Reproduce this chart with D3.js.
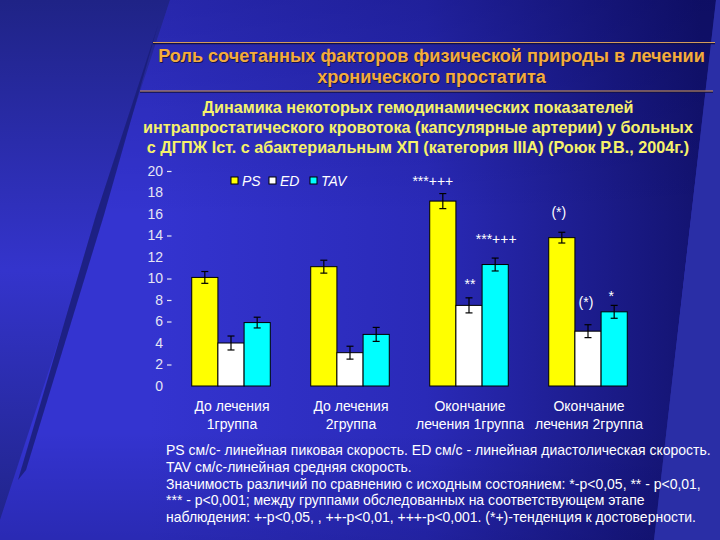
<!DOCTYPE html>
<html><head><meta charset="utf-8">
<script src="https://cdn.jsdelivr.net/npm/d3@7/dist/d3.min.js"></script>
<style>
html,body{margin:0;padding:0;background:#2a2ab8;overflow:hidden}
svg{display:block;font-family:"Liberation Sans",Arial,sans-serif}
</style></head>
<body>
<svg id="chart" width="720" height="540"></svg>
<script>
// ---- data ----
const titleLines = ["Роль сочетанных факторов физической природы в лечении", "хронического простатита"];
const subtitleLines = ["Динамика некоторых  гемодинамических показателей",
  "интрапростатического кровотока (капсулярные артерии)  у больных",
  "с ДГПЖ Iст. с абактериальным ХП (категория IIIA) (Роюк Р.В., 2004г.)"];
const categoryLine1 = ["До лечения", "До лечения", "Окончание", "Окончание"];
const categoryLine2 = ["1группа", "2группа", "лечения 1группа", "лечения 2группа"];
const seriesNames = ["PS", "ED", "TAV"];
const psValues  = [10.1, 11.1, 17.2, 13.8];
const edValues  = [4.0, 3.1, 7.5, 5.1];
const tavValues = [5.9, 4.8, 11.3, 6.9];
const psErrors  = [0.55, 0.6, 0.7, 0.5];
const edErrors  = [0.65, 0.6, 0.7, 0.6];
const tavErrors = [0.5, 0.65, 0.6, 0.6];
const psMarks  = ["", "", "***+++", "(*)"];
const edMarks  = ["", "", "**", "(*)"];
const tavMarks = ["", "", "***+++", "*"];
const yTicks = [0, 2, 4, 6, 8, 10, 12, 14, 16, 18, 20];
const yTicksWithMark = [2, 6, 8, 10, 14, 20];
const noteLines = [
  "PS см/с- линейная пиковая скорость. ED см/с - линейная диастолическая скорость.",
  "TAV см/с-линейная средняя скорость.",
  "Значимость различий по сравнению с исходным состоянием: *-p<0,05, ** - p<0,01,",
  "*** - p<0,001; между группами обследованных на соответствующем этапе",
  "наблюдения: +-p<0,05, , ++-p<0,01, +++-p<0,001. (*+)-тенденция к достоверности."
];

// ---- build ----
const seriesValues = [psValues, edValues, tavValues];
const seriesErrors = [psErrors, edErrors, tavErrors];
const seriesMarks = [psMarks, edMarks, tavMarks];
const colors = {PS: "#ffff00", ED: "#ffffff", TAV: "#00ffff"};
const groups = categoryLine1.map((c, i) => i);
const barData = [];
groups.forEach(g => seriesNames.forEach((s, k) => barData.push({
  g, s, v: seriesValues[k][g], e: seriesErrors[k][g], m: seriesMarks[k][g]})));

// placement of the significance marks relative to the error-bar top (style only)
const markStyle = {
  "2PS": {dx: -10, dy: 8}, "2ED": {dx: 1, dy: 9}, "2TAV": {dx: 1, dy: 14},
  "3PS": {dx: -3, dy: 15}, "3ED": {dx: -2, dy: 18}, "3TAV": {dx: -3, dy: 4}
};

const svg = d3.select("#chart");
const defs = svg.append("defs");

// background
const gLeft = defs.append("linearGradient").attr("id", "bgLeft").attr("x1", 0).attr("y1", 0).attr("x2", 0).attr("y2", 1);
gLeft.append("stop").attr("offset", "0%").attr("stop-color", "#1f2386");
gLeft.append("stop").attr("offset", "50%").attr("stop-color", "#3434cc");
gLeft.append("stop").attr("offset", "100%").attr("stop-color", "#1f2386");
const gMain = defs.append("linearGradient").attr("id", "bgMain").attr("gradientUnits", "userSpaceOnUse")
  .attr("x1", 150).attr("y1", 0).attr("x2", 700).attr("y2", 0);
gMain.append("stop").attr("offset", "0%").attr("stop-color", "#3434d0");
gMain.append("stop").attr("offset", "50%").attr("stop-color", "#2a2ab8");
gMain.append("stop").attr("offset", "100%").attr("stop-color", "#131370");
const gShade = defs.append("linearGradient").attr("id", "bgShade").attr("x1", 0).attr("y1", 0).attr("x2", 0).attr("y2", 1);
gShade.append("stop").attr("offset", "0%").attr("stop-color", "#000040").attr("stop-opacity", 0.25);
gShade.append("stop").attr("offset", "40%").attr("stop-color", "#000040").attr("stop-opacity", 0);
gShade.append("stop").attr("offset", "80%").attr("stop-color", "#000040").attr("stop-opacity", 0);
gShade.append("stop").attr("offset", "100%").attr("stop-color", "#000040").attr("stop-opacity", 0.2);

svg.append("rect").attr("width", 720).attr("height", 540).attr("fill", "url(#bgLeft)");
const mainPoly = "M170,0 L716,0 L654,540 L0,540 L0,520 Z";
svg.append("path").attr("d", mainPoly).attr("fill", "url(#bgMain)");
svg.append("path").attr("d", mainPoly).attr("fill", "url(#bgShade)");
svg.append("path").attr("d", "M716,0 L720,0 L720,540 L654,540 Z").attr("fill", "#2a2ea6");
// dark fold stripe
svg.append("path").attr("d", "M158,25 L96,215 L18,480 L26,470 L104,215 Z").attr("fill", "#1a1d78").attr("opacity", 0.85);

function fitText(sel, target) {
  const w = sel.node().getComputedTextLength();
  const fs = parseFloat(sel.attr("font-size"));
  return fs * target / w;
}

// title rules
svg.append("line").attr("x1", 153).attr("x2", 715).attr("y1", 43.5).attr("y2", 43.5).attr("stroke", "#10104a").attr("stroke-width", 1.5);
svg.append("line").attr("x1", 153).attr("x2", 715).attr("y1", 42.5).attr("y2", 42.5).attr("stroke", "#d39a5c").attr("stroke-width", 1.2);
svg.append("line").attr("x1", 140).attr("x2", 713).attr("y1", 92).attr("y2", 92).attr("stroke", "#10104a").attr("stroke-width", 1.5);
svg.append("line").attr("x1", 140).attr("x2", 713).attr("y1", 91).attr("y2", 91).attr("stroke", "#d39a5c").attr("stroke-width", 1.2);

const tTest = svg.append("text").attr("font-size", 16).attr("font-weight", "bold").text(titleLines[0]);
const titleFs = fitText(tTest, 547); tTest.remove();
const titleY = [62, 83];
titleLines.forEach((t, i) => {
  svg.append("text").attr("x", 432.5).attr("y", titleY[i] + 1).attr("text-anchor", "middle")
    .attr("font-size", titleFs).attr("font-weight", "bold").attr("fill", "#151550").text(t);
  svg.append("text").attr("x", 431.5).attr("y", titleY[i]).attr("text-anchor", "middle")
    .attr("font-size", titleFs).attr("font-weight", "bold").attr("fill", "#f4ac3c").text(t);
});

const sTest = svg.append("text").attr("font-size", 14).attr("font-weight", "bold").text(subtitleLines[1]);
const subFs = fitText(sTest, 550); sTest.remove();
const subY = [113, 133, 153];
subtitleLines.forEach((t, i) => {
  svg.append("text").attr("x", 418).attr("y", subY[i]).attr("text-anchor", "middle")
    .attr("font-size", subFs).attr("font-weight", "bold").attr("fill", "#f6f26a").text(t);
});

// scales
const y = d3.scaleLinear().domain([0, 20]).range([386, 171]);
const x0 = d3.scaleBand().domain(groups).range([171.5, 647.5]).paddingInner(0.34).paddingOuter(0.17);
const x1 = d3.scaleBand().domain(seriesNames).range([0, x0.bandwidth()]);

// y axis
const yAxis = svg.append("g").attr("transform", "translate(170,0)")
  .call(d3.axisLeft(y).tickValues(yTicks).tickSize(0).tickPadding(7));
yAxis.select(".domain").remove();
yAxis.selectAll("text").attr("font-size", 14).attr("fill", "#e6e6f4")
  .attr("font-family", "Liberation Sans, Arial, sans-serif");
svg.append("g").selectAll("line").data(yTicksWithMark).join("line")
  .attr("x1", 167).attr("x2", 171.5).attr("y1", d => y(d) + 0.5).attr("y2", d => y(d) + 0.5)
  .attr("stroke", "#e6e6f4").attr("stroke-width", 1.2);

// bars
const bars = svg.append("g");
bars.selectAll("rect").data(barData).join("rect")
  .attr("x", d => x0(d.g) + x1(d.s))
  .attr("y", d => y(d.v))
  .attr("width", x1.bandwidth())
  .attr("height", d => y(0) - y(d.v))
  .attr("fill", d => colors[d.s]).attr("stroke", "#000").attr("stroke-width", 1);

// error bars
const eb = svg.append("g").attr("stroke", "#000").attr("stroke-width", 1.2);
barData.forEach(d => {
  const cx = x0(d.g) + x1(d.s) + x1.bandwidth() / 2;
  eb.append("line").attr("x1", cx).attr("x2", cx).attr("y1", y(d.v + d.e)).attr("y2", y(d.v - d.e));
  eb.append("line").attr("x1", cx - 3.5).attr("x2", cx + 3.5).attr("y1", y(d.v + d.e)).attr("y2", y(d.v + d.e));
  eb.append("line").attr("x1", cx - 3.5).attr("x2", cx + 3.5).attr("y1", y(d.v - d.e)).attr("y2", y(d.v - d.e));
});

// significance marks
svg.append("g").selectAll("text").data(barData.filter(d => d.m)).join("text")
  .attr("x", d => x0(d.g) + x1(d.s) + x1.bandwidth() / 2 + (markStyle[d.g + d.s] || {dx: 0}).dx)
  .attr("y", d => y(d.v + d.e) - (markStyle[d.g + d.s] || {dy: 9}).dy)
  .attr("text-anchor", "middle").attr("font-size", 14).attr("fill", "#ffffff")
  .text(d => d.m);

// legend
const leg = svg.append("g");
const legX = [231, 269, 310];
seriesNames.forEach((s, i) => {
  leg.append("rect").attr("x", legX[i]).attr("y", 177).attr("width", 7).attr("height", 7)
    .attr("fill", colors[s]).attr("stroke", "#000").attr("stroke-width", 1);
  leg.append("text").attr("x", legX[i] + 11).attr("y", 186).attr("font-size", 14)
    .attr("font-style", "italic").attr("fill", "#ffffff").text(s);
});

// category labels
const cat = svg.append("g").attr("text-anchor", "middle").attr("font-size", 14).attr("fill", "#ffffff");
groups.forEach(g => {
  const cx = x0(g) + x0.bandwidth() / 2 + 1;
  cat.append("text").attr("x", cx).attr("y", 411).text(categoryLine1[g]);
  cat.append("text").attr("x", cx).attr("y", 429).text(categoryLine2[g]);
});

// notes
const nTest = svg.append("text").attr("font-size", 13).text(noteLines[0]);
const noteFs = fitText(nTest, 545); nTest.remove();
const notes = svg.append("g").attr("font-size", noteFs).attr("fill", "#ffffff");
noteLines.forEach((t, i) => {
  notes.append("text").attr("x", 166).attr("y", 455 + i * 16.8).text(t);
});
</script>
</body></html>
